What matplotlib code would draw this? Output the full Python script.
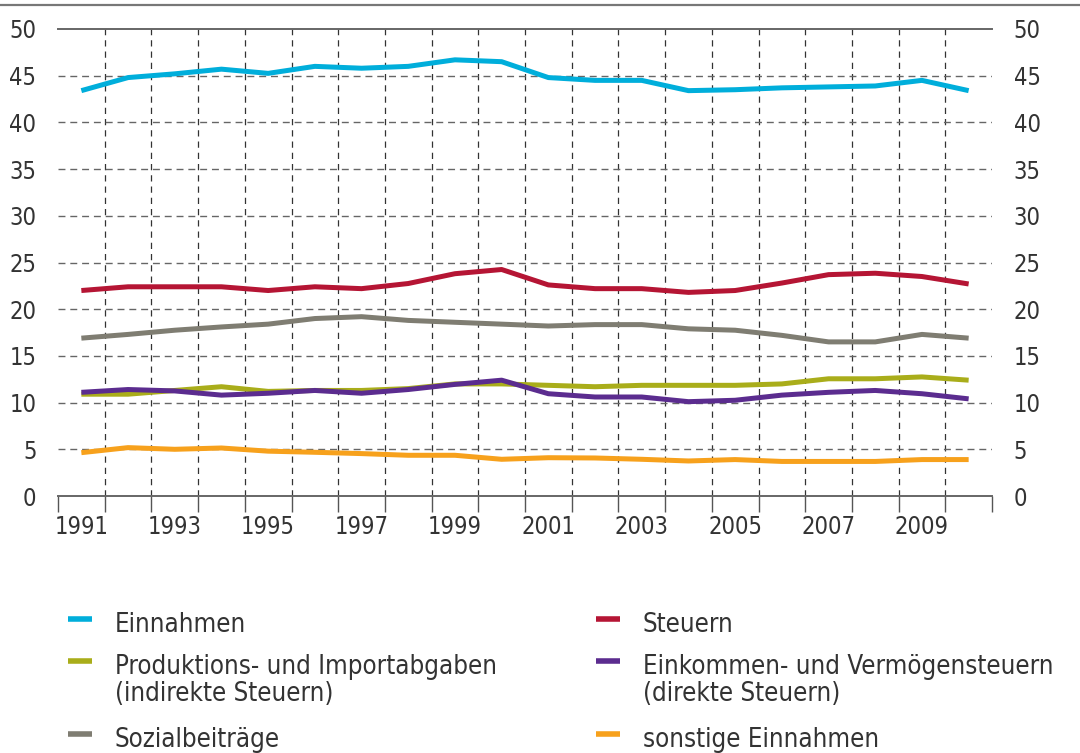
import matplotlib
matplotlib.use("Agg")
import matplotlib.pyplot as plt
from matplotlib.lines import Line2D
from matplotlib.ticker import FixedLocator, NullFormatter

plt.rcParams["font.family"] = ["DejaVu Sans"]
plt.rcParams["font.stretch"] = "condensed"

years = list(range(1991, 2011))

einnahmen = [43.4, 44.8, 45.2, 45.7, 45.25, 46.0, 45.8, 46.0, 46.7, 46.5,
             44.8, 44.5, 44.5, 43.4, 43.5, 43.7, 43.8, 43.9, 44.5, 43.4]
steuern = [22.0, 22.4, 22.4, 22.4, 22.0, 22.4, 22.2, 22.75, 23.8, 24.25,
           22.6, 22.2, 22.2, 21.8, 22.0, 22.8, 23.7, 23.85, 23.5, 22.7]
sozial = [16.9, 17.3, 17.75, 18.1, 18.4, 19.0, 19.2, 18.8, 18.6, 18.4,
          18.2, 18.35, 18.35, 17.9, 17.75, 17.2, 16.5, 16.5, 17.3, 16.9]
produktion = [10.9, 10.9, 11.3, 11.7, 11.2, 11.3, 11.3, 11.5, 12.0, 12.0,
              11.85, 11.7, 11.85, 11.85, 11.85, 12.0, 12.55, 12.55, 12.75, 12.4]
einkommen = [11.1, 11.4, 11.25, 10.8, 11.0, 11.3, 11.0, 11.4, 11.95, 12.4,
             10.95, 10.6, 10.6, 10.1, 10.25, 10.8, 11.1, 11.3, 10.95, 10.4]
sonstige = [4.64, 5.18, 5.0, 5.14, 4.8, 4.68, 4.54, 4.36, 4.36, 3.93,
            4.1, 4.07, 3.93, 3.75, 3.9, 3.7, 3.7, 3.7, 3.9, 3.9]

labels = ["Einnahmen", "Steuern",
          "Produktions- und Importabgaben\n(indirekte Steuern)",
          "Einkommen- und Vermögensteuern\n(direkte Steuern)",
          "Sozialbeiträge", "sonstige Einnahmen"]
colors = ["#00AEDB", "#B51534", "#A9AD1A", "#5B2C8F", "#7F7D72", "#F7A11C"]
series = [einnahmen, steuern, produktion, einkommen, sozial, sonstige]
# draw order: back to front
draw_order = [0, 1, 4, 2, 3, 5]

text_color = "#333333"
fs = 17

fig = plt.figure(figsize=(10.8, 7.53), dpi=100)
ax = fig.add_axes([58 / 1080, 1 - 496 / 753, (992 - 58) / 1080, (496 - 29) / 753])

for i in draw_order:
    ax.plot(years, series[i], color=colors[i], linewidth=3.6,
            solid_capstyle="butt", solid_joinstyle="round", zorder=3)

ax.set_xlim(1990.5, 2010.5)
ax.set_ylim(0, 50)

# category boundaries as major ticks, labels on odd years
bounds = [y - 0.5 for y in years] + [2010.5]
ax.xaxis.set_major_locator(FixedLocator(bounds))
ax.xaxis.set_major_formatter(NullFormatter())
ax.xaxis.set_minor_locator(FixedLocator(years[::2]))
ax.set_xticklabels([str(y) for y in years[::2]], minor=True)
ax.tick_params(axis="x", which="major", length=11.5, width=1.0, color="#555555")
ax.tick_params(axis="x", which="minor", length=0, pad=14, labelsize=fs,
               labelcolor=text_color)

ax.set_yticks(range(0, 51, 5))
ax.tick_params(axis="y", length=0, pad=15.5, labelsize=fs, labelcolor=text_color,
               left=True, right=True, labelleft=True, labelright=True)

for b in bounds[1:-1]:
    ax.axvline(b, color="#333333", linewidth=0.9, linestyle=(0, (5, 4)), zorder=1)
for v in range(5, 50, 5):
    ax.axhline(v, color="#666666", linewidth=1.0, linestyle=(0, (5, 3.5)), zorder=1)

for s in ["left", "right"]:
    ax.spines[s].set_visible(False)
for s in ["top", "bottom"]:
    ax.spines[s].set_color("#666666")
    ax.spines[s].set_linewidth(1.4)

# figure top rule
fig.add_artist(Line2D([0, 1], [1 - 5 / 753, 1 - 5 / 753], color="#777777",
                      linewidth=1.6, transform=fig.transFigure))

# legend, two columns (marker sits on the first text line)
col_x = [68, 596]
first_baseline = [632, 674, 747]
line_step = 27
for k, (lab, col) in enumerate(zip(labels, colors)):
    r, c = divmod(k, 2)
    x0 = col_x[c]
    yb = first_baseline[r]
    ym = 1 - (yb - 13) / 753
    fig.add_artist(Line2D([x0 / 1080, (x0 + 24) / 1080], [ym, ym],
                          color=col, linewidth=4.0, solid_capstyle="butt",
                          transform=fig.transFigure))
    n_lines = lab.count("\n") + 1
    t = fig.text((x0 + 47) / 1080, 1 - (yb + line_step * (n_lines - 1)) / 753, lab,
                 fontsize=18.5, color=text_color, ha="left", va="baseline",
                 linespacing=1.03)

fig.savefig("out.png", dpi=100)
